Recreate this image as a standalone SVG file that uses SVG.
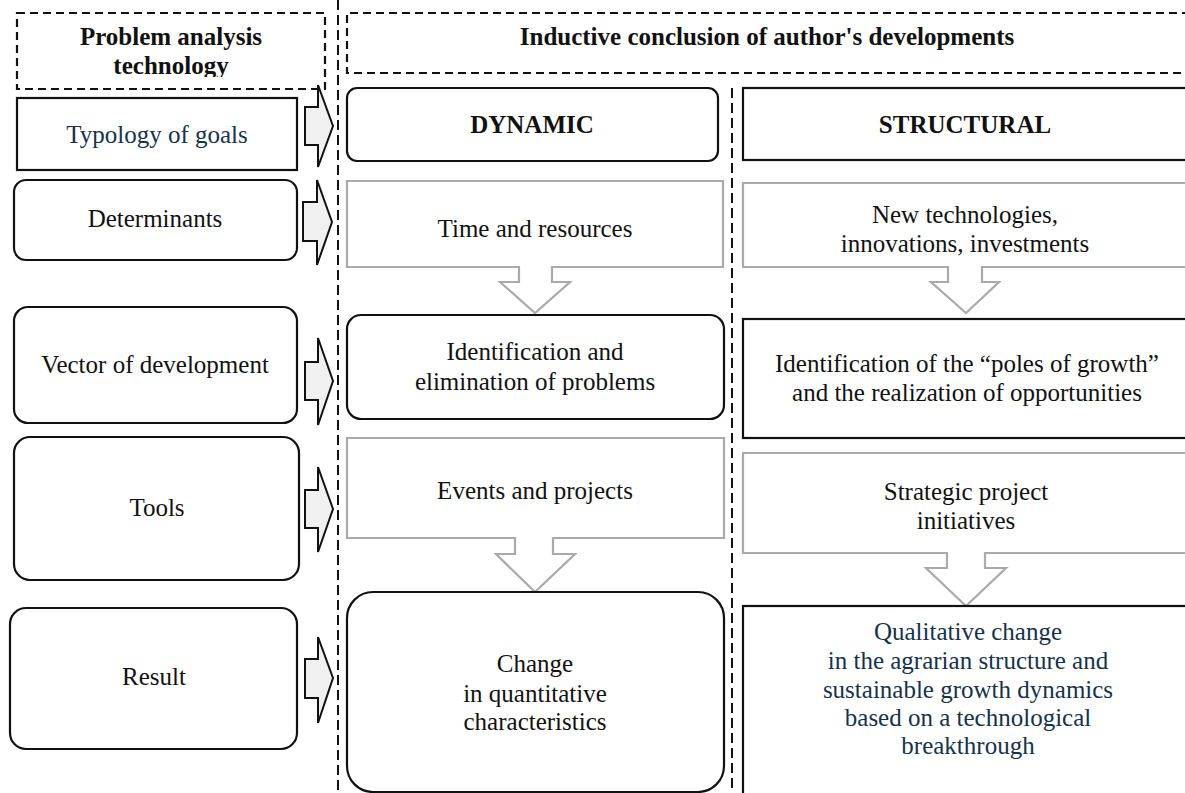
<svg xmlns="http://www.w3.org/2000/svg" width="1185" height="793" viewBox="0 0 1185 793">
<style>
  .t { font-family: "Liberation Serif", "Times New Roman", serif; font-size: 25px; fill: #111; text-anchor: middle; }
  .b { font-weight: bold; }
  .navy { fill: #17324a; }
  .hdr { fill: none; stroke: #111; stroke-width: 2.2; stroke-dasharray: 8 5; }
  .vdash { fill: none; stroke: #111; stroke-width: 2; stroke-dasharray: 10 5; }
  .box { fill: #fff; stroke: #111; stroke-width: 2.2; }
  .gray { fill: #fff; stroke: #aaaaaa; stroke-width: 2.2; }
  .rarrow { fill: #f0f0f0; stroke: #111; stroke-width: 2; stroke-linejoin: miter; }
</style>
<defs>
  <clipPath id="hdrclip"><rect x="17" y="13" width="308" height="64"/></clipPath>
</defs>
<rect width="1185" height="793" fill="#fff"/>

<g id="header-left">
  <rect class="hdr" x="17" y="13" width="308" height="76"/>
  <g clip-path="url(#hdrclip)">
    <text class="t b" x="171" y="45">Problem analysis</text>
    <text class="t b" x="171" y="74">technology</text>
  </g>
</g>
<g id="header-right">
  <path class="hdr" d="M1190,13 H347 V73 H1190"/>
  <text class="t b" x="767" y="45">Inductive conclusion of author's developments</text>
</g>
<g id="dividers">
  <line class="vdash" x1="338" y1="0" x2="338" y2="793"/>
  <line class="vdash" x1="732" y1="88" x2="732" y2="793"/>
</g>

<g id="typology">
  <rect class="box" x="17" y="98" width="280" height="72"/>
  <text class="t navy" x="157" y="143">Typology of goals</text>
</g>
<g id="determinants">
  <rect class="box" x="14" y="180" width="283" height="80" rx="12"/>
  <text class="t" x="155" y="227">Determinants</text>
</g>
<g id="vector">
  <rect class="box" x="14" y="307" width="283" height="116" rx="14"/>
  <text class="t" x="155" y="373">Vector of development</text>
</g>
<g id="tools">
  <rect class="box" x="14" y="437" width="285" height="143" rx="16"/>
  <text class="t" x="157" y="516">Tools</text>
</g>
<g id="result">
  <rect class="box" x="10" y="608" width="287" height="141" rx="16"/>
  <text class="t" x="154" y="685">Result</text>
</g>

<g id="dynamic">
  <rect class="box" x="347" y="88" width="371" height="73" rx="10"/>
  <text class="t b" x="532" y="133">DYNAMIC</text>
</g>
<g id="time-resources">
  <path class="gray" d="M347,181 H723 V267 H552 V282 H570 L535,313 L500,282 H519 V267 H347 Z"/>
  <text class="t" x="535" y="237">Time and resources</text>
</g>
<g id="identification-dyn">
  <rect class="box" x="347" y="315" width="377" height="104" rx="14"/>
  <text class="t" x="535" y="360">Identification and</text>
  <text class="t" x="535" y="390">elimination of problems</text>
</g>
<g id="events-projects">
  <path class="gray" d="M347,438 H724 V538 H553 V554 H575 L535,592 L496,554 H515 V538 H347 Z"/>
  <text class="t" x="535" y="499">Events and projects</text>
</g>
<g id="change-quant">
  <rect class="box" x="347" y="592" width="377" height="200" rx="26"/>
  <text class="t" x="535" y="672">Change</text>
  <text class="t" x="535" y="702">in quantitative</text>
  <text class="t" x="535" y="730">characteristics</text>
</g>

<g id="structural">
  <rect class="box" x="743" y="88" width="460" height="72"/>
  <text class="t b" x="965" y="133">STRUCTURAL</text>
</g>
<g id="new-tech">
  <path class="gray" d="M743,183 H1200 V267 H982 V282 H999 L966,313 L931,282 H948 V267 H743 Z"/>
  <text class="t" x="965" y="223">New technologies,</text>
  <text class="t" x="965" y="252">innovations, investments</text>
</g>
<g id="identification-str">
  <rect class="box" x="743" y="319" width="460" height="119"/>
  <text class="t" x="967" y="372">Identification of the “poles of growth”</text>
  <text class="t" x="967" y="401">and the realization of opportunities</text>
</g>
<g id="strategic">
  <path class="gray" d="M743,453 H1200 V553 H985 V568 H1006 L966,606 L926,568 H947 V553 H743 Z"/>
  <text class="t" x="966" y="500">Strategic project</text>
  <text class="t" x="966" y="529">initiatives</text>
</g>
<g id="qualitative">
  <rect class="box" x="743" y="606" width="460" height="200"/>
  <text class="t navy" x="968" y="640">Qualitative change</text>
  <text class="t navy" x="968" y="669">in the agrarian structure and</text>
  <text class="t navy" x="968" y="698">sustainable growth dynamics</text>
  <text class="t navy" x="968" y="726">based on a technological</text>
  <text class="t navy" x="968" y="754">breakthrough</text>
</g>

<g id="connectors">
  <polygon class="rarrow" points="305,107 318,107 318,85 333,126 318,167 318,145 305,145"/>
  <polygon class="rarrow" points="303,202 317,202 317,180 332,222 317,265 317,241 303,241"/>
  <polygon class="rarrow" points="305,362 318,362 318,338 333,381 318,425 318,400 305,400"/>
  <polygon class="rarrow" points="305,490 318,490 318,467 333,509 318,552 318,528 305,528"/>
  <polygon class="rarrow" points="305,659 318,659 318,637 333,678 318,723 318,698 305,698"/>
</g>
</svg>
